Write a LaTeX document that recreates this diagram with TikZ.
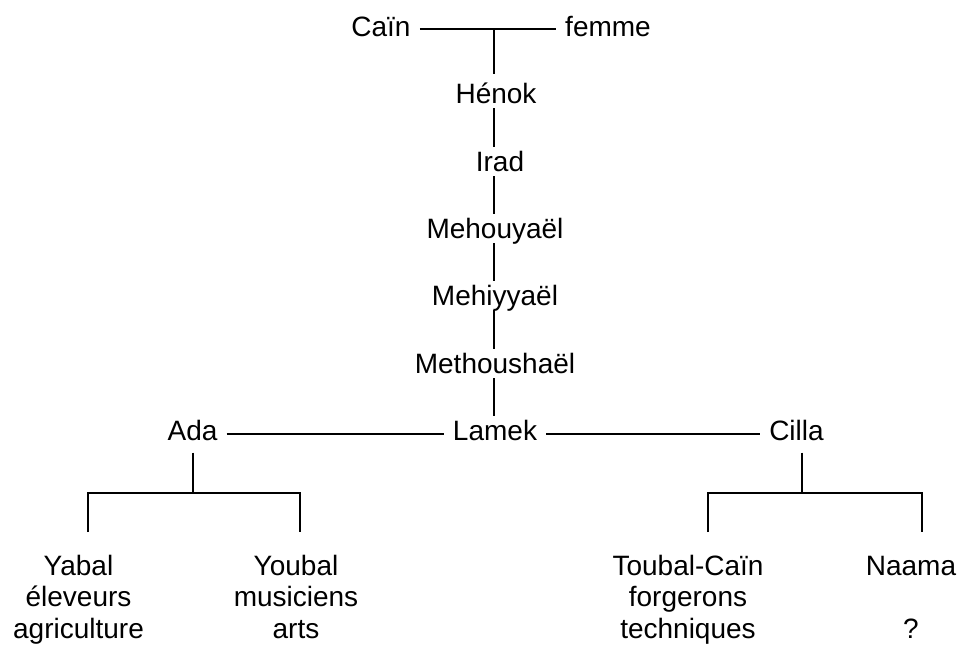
\documentclass[tikz,border=0pt]{standalone}
\usepackage{fontspec}
\setmainfont{Liberation Sans}
\begin{document}
\begin{tikzpicture}[x=1pt,y=-1pt,
  every node/.style={font=\fontsize{28}{31.5}\selectfont},
  person/.style={anchor=base,inner xsep=9pt,inner ysep=0pt,text height=21pt,text depth=7pt},
  leaf/.style={anchor=base,inner sep=0pt,align=center},
  link/.style={line width=2pt},
  vlink/.style={line width=2pt,shorten >=3pt,shorten <=-2pt}]
\useasboundingbox (0,0) rectangle (961,646);
% upper chain
\node[person] (cain) at (381,36) {Caïn};
\node[person] (femme) at (608,36) {femme};
\node[person] (henok) at (496,103) {Hénok};
\node[person] (irad) at (500,171) {Irad};
\node[person] (mehou) at (495,238) {Mehouyaël};
\node[person] (mehiy) at (495,305) {Mehiyyaël};
\node[person] (metho) at (495,373) {Methoushaël};
\node[person] (lamek) at (495,440.5) {Lamek};
\node[person] (ada) at (192.5,440.5) {Ada};
\node[person] (cilla) at (796.5,440.5) {Cilla};
% leaves (base anchor = baseline of last line)
\node[leaf] (yabal) at (78.5,638) {Yabal\\éleveurs\\agriculture};
\node[leaf] (youbal) at (296,638) {Youbal\\musiciens\\arts};
\node[leaf] (toubal) at (688,638) {Toubal-Caïn\\forgerons\\techniques};
\node[leaf] (naama) at (911,638) {Naama\\\mbox{}\\?};
% coordinates
\coordinate (cj) at (494,29);
\coordinate (adabar) at (193,493);
\coordinate (cillabar) at (802,493);
\coordinate (yabtop) at (88,532);
\coordinate (youtop) at (300,532);
\coordinate (toutop) at (708,532);
\coordinate (naatop) at (922,532);
% connectors
\draw[link] (cain.east) -- (femme.west);
\draw[link,shorten >=8pt] (cj) -- (henok.north -| cj);
\draw[vlink] (henok.south -| cj) -- (irad.north -| cj);
\draw[vlink] (irad.south -| cj) -- (mehou.north -| cj);
\draw[vlink] (mehou.south -| cj) -- (mehiy.north -| cj);
\draw[vlink] (mehiy.south -| cj) -- (metho.north -| cj);
\draw[vlink] (metho.south -| cj) -- (lamek.north -| cj);
\draw[link] (ada.east) -- (lamek.west);
\draw[link] (lamek.east) -- (cilla.west);
\draw[link,shorten <=5pt] (ada.south -| adabar) -- (adabar);
\draw[link,shorten <=5pt] (cilla.south -| cillabar) -- (cillabar);
\draw[link] (yabtop) |- (adabar) -| (youtop);
\draw[link] (toutop) |- (cillabar) -| (naatop);
\end{tikzpicture}
\end{document}
